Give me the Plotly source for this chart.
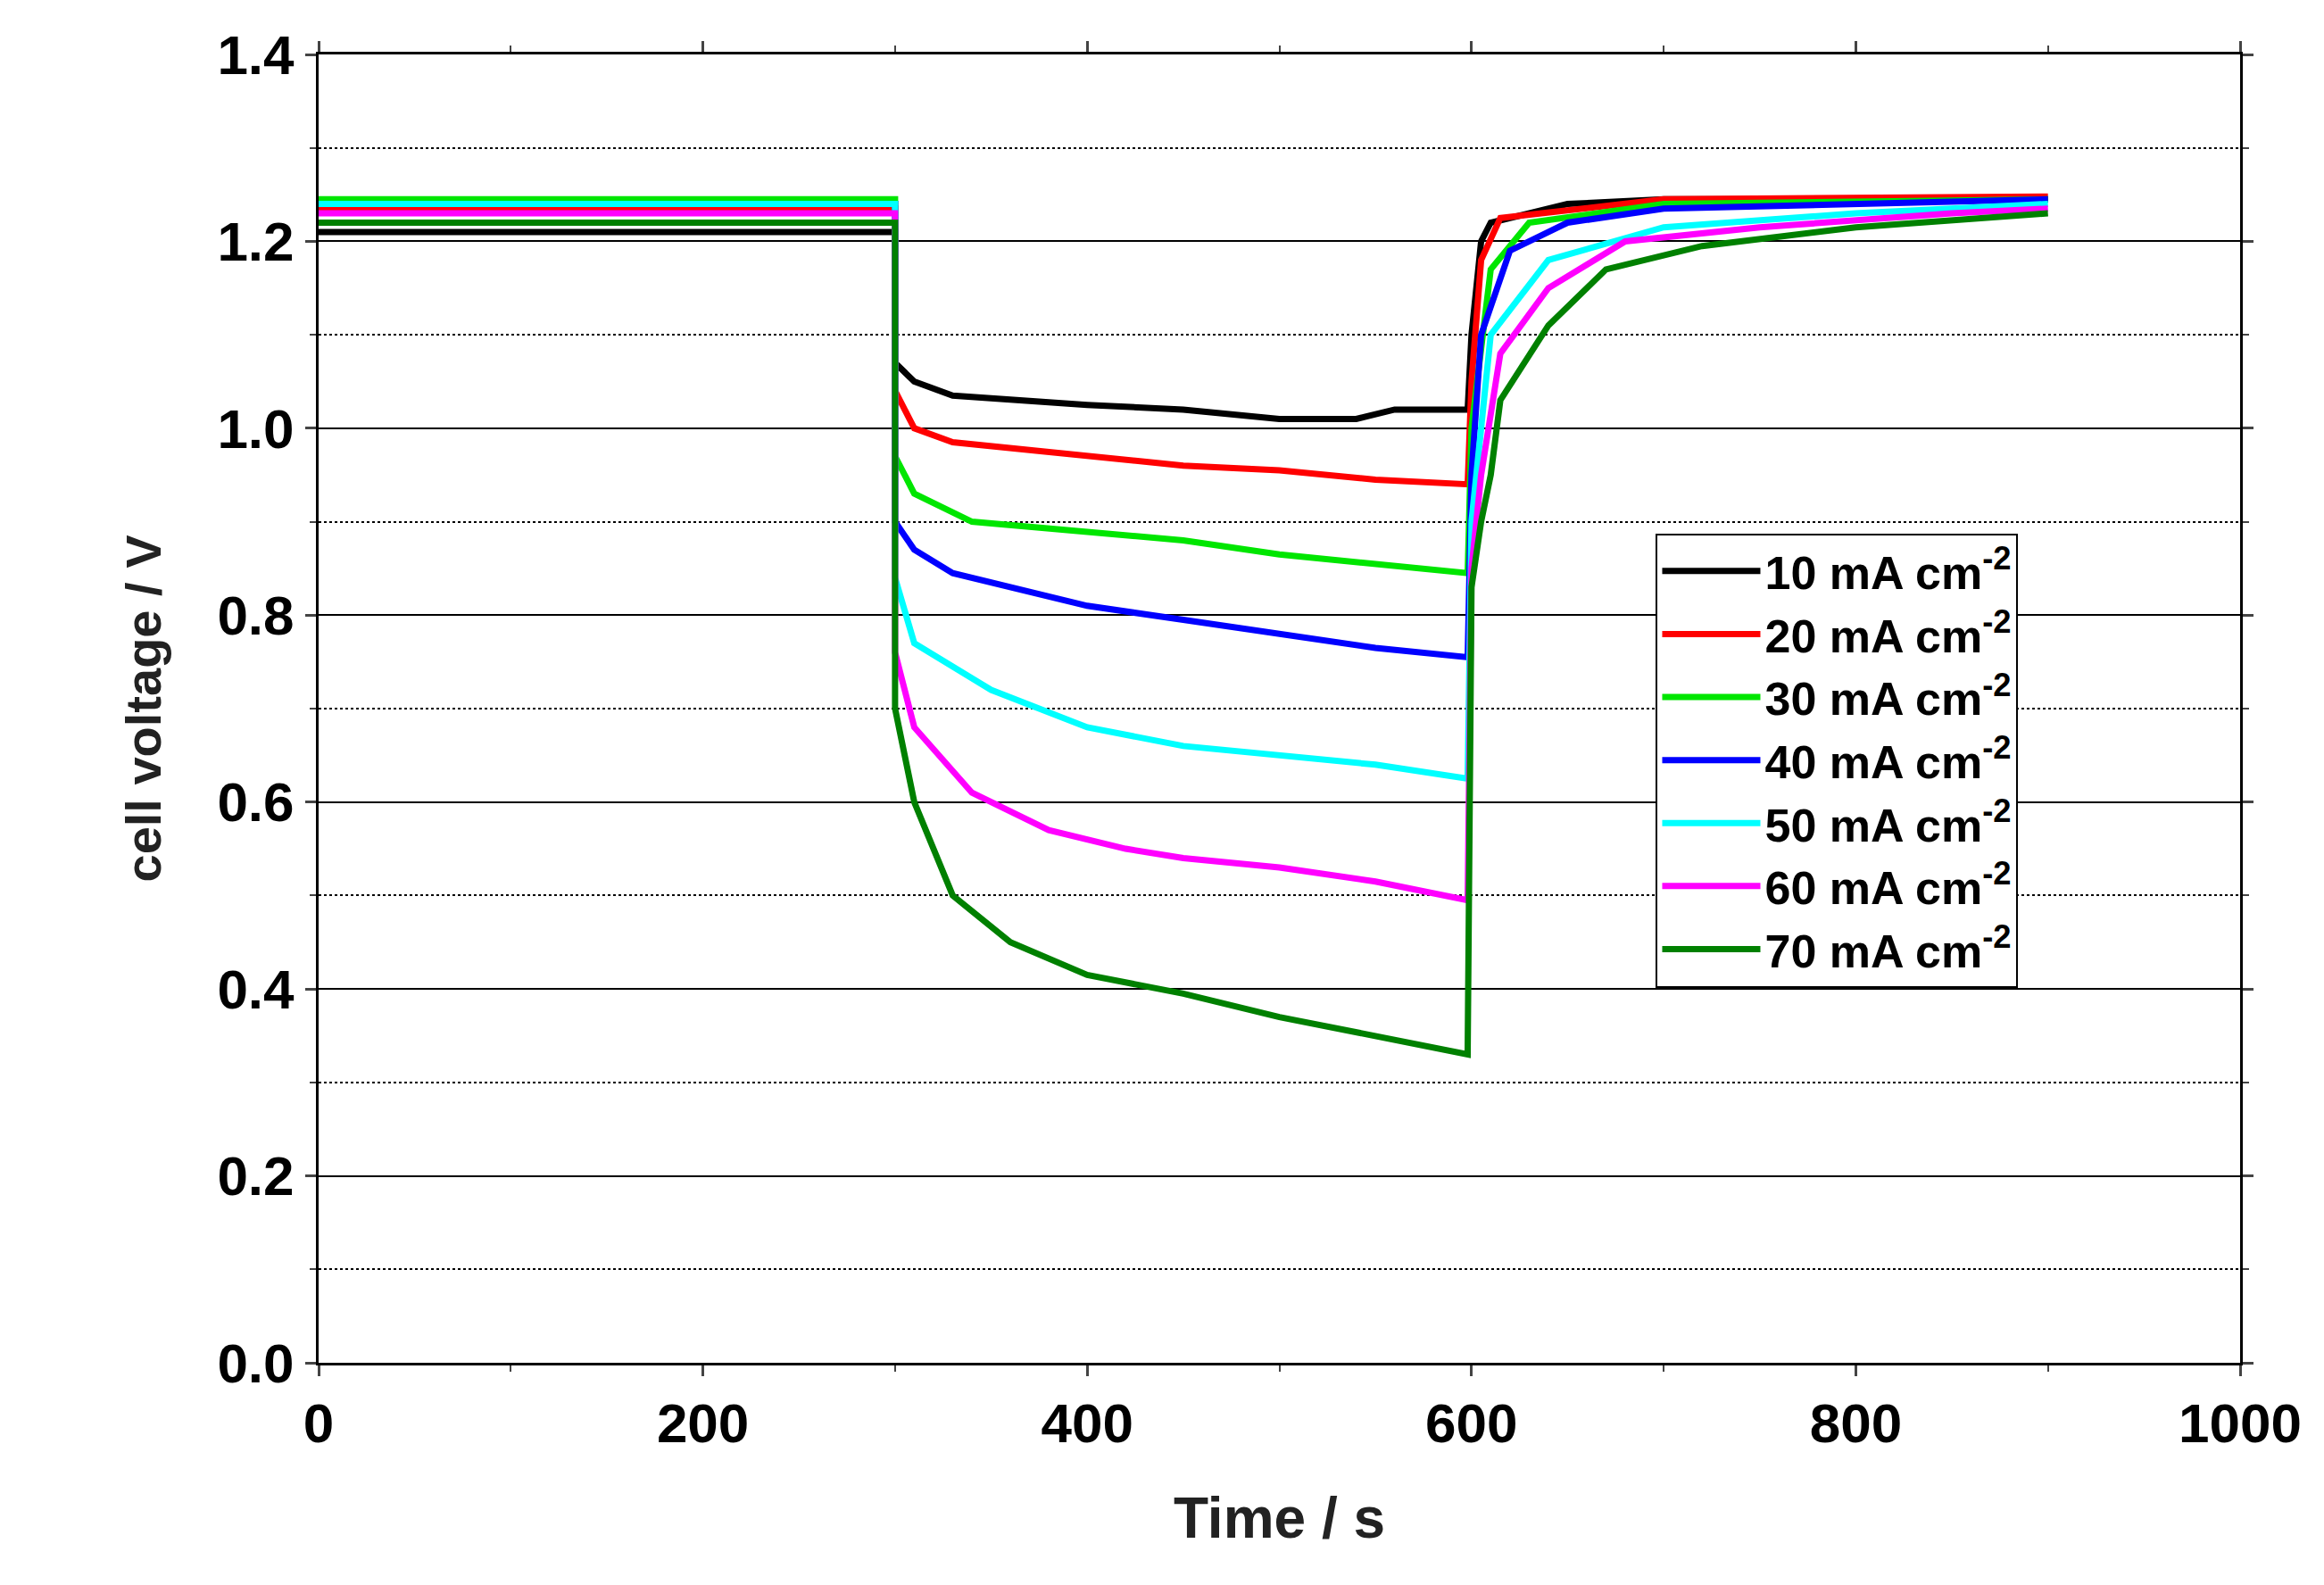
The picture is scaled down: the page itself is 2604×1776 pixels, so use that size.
import plotly.graph_objects as go

labels = ["10 mA cm<sup>-2</sup>", "20 mA cm<sup>-2</sup>", "30 mA cm<sup>-2</sup>",
          "40 mA cm<sup>-2</sup>", "50 mA cm<sup>-2</sup>", "60 mA cm<sup>-2</sup>",
          "70 mA cm<sup>-2</sup>"]
colors = ["#000000", "#ff0000", "#00e600", "#0000ff", "#00ffff", "#ff00ff", "#008000"]

t10 = [0, 300, 300, 310, 330, 400, 450, 500, 540, 560, 598, 600, 605, 610, 650, 700, 900]
v10 = [1.21, 1.21, 1.07, 1.05, 1.035, 1.025, 1.02, 1.01, 1.01, 1.02, 1.02, 1.10, 1.20, 1.22, 1.24, 1.245, 1.245]
t20 = [0, 300, 300, 310, 330, 400, 450, 500, 550, 598, 600, 605, 615, 700, 900]
v20 = [1.235, 1.235, 1.04, 1.0, 0.985, 0.97, 0.96, 0.955, 0.945, 0.94, 1.05, 1.18, 1.225, 1.245, 1.248]
t30 = [0, 300, 300, 310, 340, 400, 450, 500, 550, 598, 600, 610, 630, 700, 900]
v30 = [1.245, 1.245, 0.97, 0.93, 0.90, 0.89, 0.88, 0.865, 0.855, 0.845, 1.0, 1.17, 1.22, 1.24, 1.245]
t40 = [0, 300, 300, 310, 330, 400, 450, 500, 550, 598, 600, 605, 620, 650, 700, 900]
v40 = [1.24, 1.24, 0.90, 0.87, 0.845, 0.81, 0.795, 0.78, 0.765, 0.755, 0.95, 1.10, 1.19, 1.22, 1.235, 1.245]
t50 = [0, 300, 300, 310, 350, 400, 450, 500, 550, 598, 600, 610, 640, 700, 800, 900]
v50 = [1.24, 1.24, 0.84, 0.77, 0.72, 0.68, 0.66, 0.65, 0.64, 0.625, 0.90, 1.10, 1.18, 1.215, 1.23, 1.24]
t60 = [0, 300, 300, 310, 340, 380, 420, 450, 500, 550, 598, 600, 605, 615, 640, 680, 750, 850, 900]
v60 = [1.23, 1.23, 0.76, 0.68, 0.61, 0.57, 0.55, 0.54, 0.53, 0.515, 0.495, 0.85, 0.95, 1.08, 1.15, 1.20, 1.215, 1.23, 1.235]
t70 = [0, 300, 300, 310, 330, 360, 400, 450, 500, 550, 598, 600, 605, 610, 615, 640, 670, 720, 800, 900]
v70 = [1.22, 1.22, 0.70, 0.60, 0.50, 0.45, 0.415, 0.395, 0.37, 0.35, 0.33, 0.83, 0.90, 0.95, 1.03, 1.11, 1.17, 1.195, 1.215, 1.23]

times = [t10, t20, t30, t40, t50, t60, t70]
volts = [v10, v20, v30, v40, v50, v60, v70]

fig = go.Figure()
for lab, col, t, v in zip(labels, colors, times, volts):
    fig.add_trace(go.Scatter(x=t, y=v, mode="lines", name=lab,
                             line=dict(color=col, width=7)))

font = "Arial, Liberation Sans, sans-serif"
axis_common = dict(showline=True, linecolor="black", linewidth=3, mirror="ticks",
                   ticks="outside", ticklen=12, tickwidth=3,
                   tickfont=dict(family=font, size=62, color="black", weight="bold"),
                   zeroline=False)
fig.update_xaxes(range=[0, 1000], dtick=200, showgrid=False,
                 minor=dict(dtick=100, ticks="outside", ticklen=7, tickwidth=2),
                 title=dict(text="Time / s", font=dict(family=font, size=64, color="#222", weight="bold"),
                            standoff=50),
                 **axis_common)
fig.update_yaxes(range=[0, 1.4], dtick=0.2, tickformat=".1f",
                 showgrid=True, gridcolor="black", gridwidth=2,
                 minor=dict(dtick=0.1, ticks="outside", ticklen=7, tickwidth=2,
                            showgrid=True, gridcolor="black", gridwidth=1.5, griddash="dot"),
                 title=dict(text="cell voltage / V", font=dict(family=font, size=56, color="#222", weight="bold"),
                            standoff=45),
                 **axis_common)
fig.update_layout(
    width=2604, height=1776,
    margin=dict(l=349, r=102, t=53, b=257),
    plot_bgcolor="white", paper_bgcolor="white",
    legend=dict(x=0.696, y=0.634, xanchor="left", yanchor="top",
                bgcolor="white", bordercolor="black", borderwidth=2,
                font=dict(family=font, size=52, color="black", weight="bold"),
                tracegroupgap=0, itemwidth=110),
)
fig.write_html("out.html")
